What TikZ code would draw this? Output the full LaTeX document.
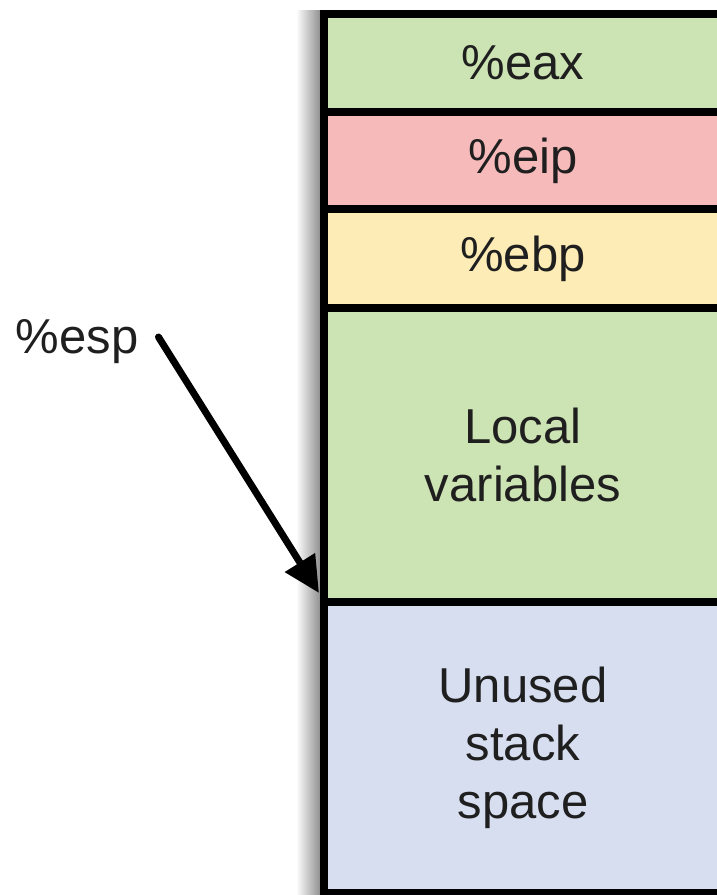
\documentclass[tikz,border=0pt]{standalone}
\usepackage{fontspec}
\setmainfont{Liberation Sans}
\usetikzlibrary{positioning}
\usetikzlibrary{arrows.meta}
\definecolor{cellgreen}{RGB}{204,227,179}
\definecolor{cellred}{RGB}{246,186,186}
\definecolor{cellyellow}{RGB}{253,236,182}
\definecolor{cellblue}{RGB}{214,222,240}

\begin{document}
\begin{tikzpicture}[x=1pt,y=-1pt,
	cell/.style={draw, line width=8pt, outer sep=0pt, inner sep=0pt, minimum width=398pt, align=center, text=black!88, font=\fontsize{49}{58}\selectfont}]
	\useasboundingbox[fill=white] (0,0) rectangle (717,895);
	% shadow left of the stack
	\shade[left color=white, right color=black!45] (296,10) rectangle (321,895);
	
	\node (eax) [cell, fill=cellgreen, minimum height=98pt] at (523,63) {\%eax};
	\node (eip) [cell, fill=cellred, minimum height=97pt, below=0pt of eax] {\%eip};
	\node (ebp) [cell, fill=cellyellow, minimum height=99pt, below=0pt of eip] {\%ebp};
	\node (local) [cell, fill=cellgreen, minimum height=294pt, below=0pt of ebp] {Local\\variables};
	\node (unused) [cell, fill=cellblue, minimum height=291pt, below=0pt of local] {Unused\\stack\\space};
	
	\node (esp) [inner sep=0pt, text=black!88, font=\fontsize{49}{58}\selectfont] at (77,342) {\%esp};
	\coordinate (tail) at ([xshift=20pt,yshift=5pt]esp.east);
	\coordinate (tip) at ([xshift=-5pt,yshift=9pt]local.south west);
	\draw [line width=7pt, line cap=round, -{Triangle[length=36pt,width=34pt]}] (tail) -- (tip);
\end{tikzpicture}
\end{document}
